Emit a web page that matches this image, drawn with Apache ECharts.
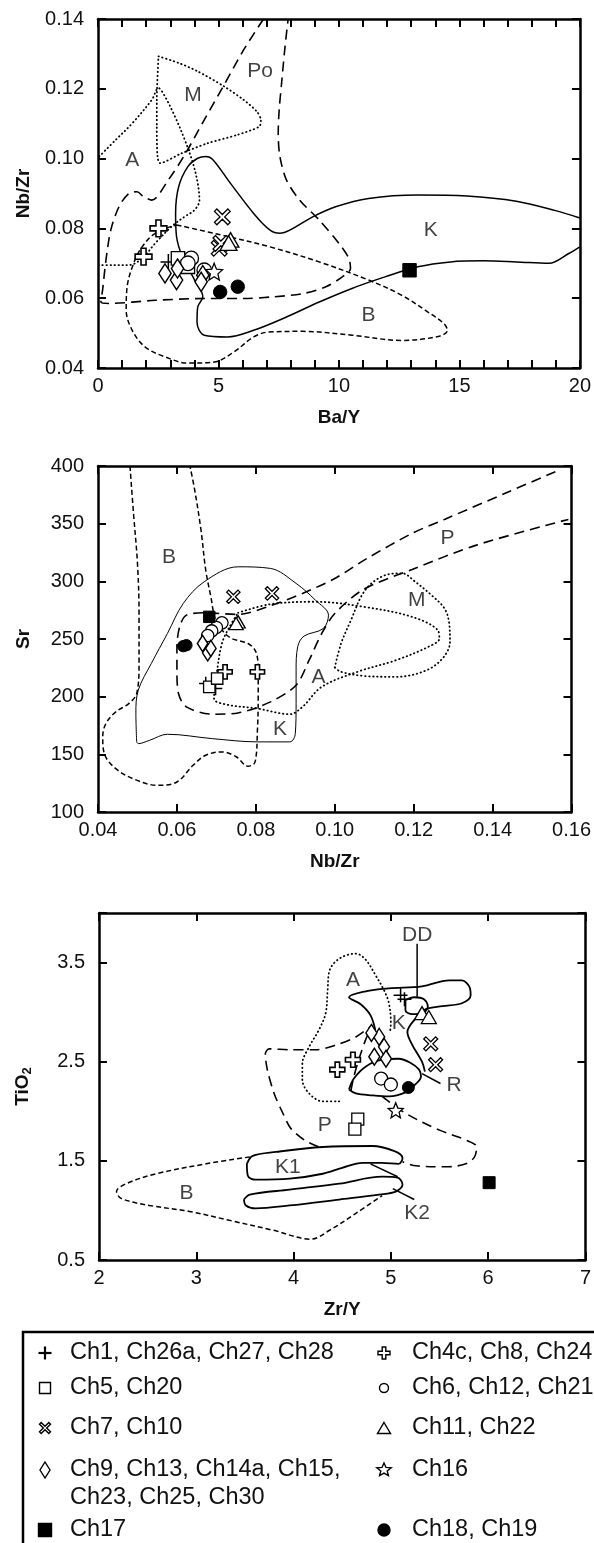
<!DOCTYPE html>
<html><head><meta charset="utf-8">
<script src="https://cdn.jsdelivr.net/npm/echarts@6/dist/echarts.min.js"></script>
<style>html,body{margin:0;padding:0;background:#fff}#c{width:594px;height:1543px}</style>
</head><body><div id="c"></div>
<script>
// ---------- legend groups ----------
const GROUPS = ['Ch1, Ch26a, Ch27, Ch28','Ch4c, Ch8, Ch24','Ch5, Ch20','Ch6, Ch12, Ch21','Ch7, Ch10','Ch11, Ch22','Ch9, Ch13, Ch14a, Ch15, Ch23, Ch25, Ch30','Ch16','Ch17','Ch18, Ch19'];
const GROUP_TEXT = ['Ch1, Ch26a, Ch27, Ch28','Ch4c, Ch8, Ch24','Ch5, Ch20','Ch6, Ch12, Ch21','Ch7, Ch10','Ch11, Ch22','Ch9, Ch13, Ch14a, Ch15,\nCh23, Ch25, Ch30','Ch16','Ch17','Ch18, Ch19'];

// ---------- plot 1: Ba/Y vs Nb/Zr ----------
const p1_Po = [[6.87,0.14],[6.05,0.1312],[5.23,0.1211],[4.41,0.1111],[3.60,0.1011],[2.92,0.0939],[2.23,0.0881],[1.89,0.0891],[1.62,0.0905],[1.28,0.0900],[0.87,0.0862],[0.53,0.0795],[0.33,0.0709],[0.19,0.0623],[0.12,0.0589],[0.46,0.0585],[2.37,0.0594],[4.41,0.0599],[6.05,0.0599],[7.28,0.0604],[8.50,0.0613],[9.46,0.0633],[10.14,0.0661],[10.48,0.0685],[10.41,0.0714],[10.0,0.0757],[9.18,0.0824],[8.37,0.0881],[7.82,0.0939],[7.55,0.1006],[7.48,0.1073],[7.52,0.1140],[7.62,0.1216],[7.75,0.1312],[7.89,0.14]];
const p1_A = [[0.05,0.1006],[0.74,0.1054],[1.42,0.1101],[2.23,0.1168],[2.51,0.1202],[2.78,0.1178],[3.19,0.1121],[3.60,0.1054],[3.94,0.0987],[4.14,0.0929],[4.21,0.0881],[4.01,0.0853],[3.60,0.0834],[3.05,0.0805],[2.37,0.0757],[1.83,0.0714],[1.28,0.0695],[0.60,0.0695],[0.03,0.0695]];
const p1_M = [[2.51,0.1293],[3.35,0.1274],[4.14,0.1250],[5.23,0.1207],[6.05,0.1168],[6.59,0.1135],[6.76,0.1111],[6.70,0.1092],[5.78,0.1068],[4.55,0.1044],[3.46,0.1015],[2.57,0.0987],[2.47,0.1006],[2.44,0.1092],[2.44,0.1168],[2.51,0.1293]];
const p1_K = [[20,0.083],[18.99,0.0851],[17.36,0.0878],[15.31,0.0893],[13.27,0.0896],[11.23,0.0886],[9.86,0.0862],[8.91,0.0833],[7.96,0.0795],[7.55,0.0786],[7.14,0.0795],[6.46,0.0843],[5.50,0.0929],[4.75,0.0998],[4.48,0.1006],[4.14,0.1001],[3.73,0.0977],[3.35,0.0920],[3.22,0.0843],[3.26,0.0776],[3.53,0.0714],[4.01,0.0652],[4.35,0.0604],[4.14,0.0575],[4.11,0.0532],[4.41,0.0494],[5.37,0.0489],[6.46,0.0508],[7.82,0.0546],[9.18,0.0589],[10.54,0.0628],[11.91,0.0661],[13.27,0.0690],[14.63,0.0704],[16.0,0.0707],[17.36,0.0704],[18.72,0.0700],[19.54,0.0728],[20,0.0747]];
const p1_B = [[3.26,0.0810],[5.12,0.0781],[7.14,0.0747],[9.18,0.0704],[11.23,0.0652],[12.59,0.0609],[13.68,0.0561],[14.36,0.0527],[14.50,0.0508],[14.16,0.0491],[12.59,0.0479],[10.54,0.0494],[8.50,0.0505],[7.07,0.0503],[6.46,0.0489],[5.64,0.0446],[4.82,0.0417],[3.73,0.0414],[2.78,0.0432],[1.96,0.0460],[1.42,0.0508],[1.17,0.0566],[1.21,0.0633],[1.48,0.0700],[1.83,0.0747],[2.37,0.0786],[3.26,0.0810]];
const p1_labels = [['A',1.42,0.0996],['M',3.94,0.1183],['Po',6.73,0.125],['K',13.81,0.0795],['B',11.23,0.0551]];
const p1_pts = [
  [[2.92,0.0704]],
  [[2.51,0.0800],[1.89,0.0719]],
  [[3.32,0.0714],[3.73,0.0690]],
  [[3.87,0.0714],[3.73,0.0700],[4.41,0.0680]],
  [[5.16,0.0833],[5.03,0.0743],[5.10,0.0757]],
  [[5.50,0.0767],[5.42,0.0758]],
  [[2.78,0.0671],[3.26,0.0652],[3.30,0.0685],[4.35,0.0666],[4.28,0.0647]],
  [[4.82,0.0676]],
  [[12.93,0.0680]],
  [[5.07,0.0618],[5.80,0.0633]]
];

// ---------- plot 2: Nb/Zr vs Sr ----------
const p2_B = [[0.0481,400],[0.0490,358.9],[0.0500,315.5],[0.0504,272.1],[0.0504,228.7],[0.0498,202.7],[0.0478,194.0],[0.0445,186.8],[0.0420,176.7],[0.0412,165.1],[0.0416,150.6],[0.0445,137.6],[0.0494,128.1],[0.0551,123.1],[0.0600,126.0],[0.0641,140.5],[0.0673,149.2],[0.0714,152.1],[0.0751,147.7],[0.0780,139.6],[0.0798,143.4],[0.0804,170.9],[0.0806,199.8],[0.0806,223.0],[0.0800,238.9],[0.0780,246.1],[0.0739,250.4],[0.0718,256.2],[0.0698,266.3],[0.0686,286.6],[0.0673,309.7],[0.0661,344.5],[0.0645,379.2],[0.0633,400]];
const p2_P = [[0.1559,395.1],[0.1441,377.7],[0.1278,353.7],[0.1196,341.6],[0.1082,319.9],[0.1000,302.5],[0.0918,289.5],[0.0837,278.8],[0.0755,271.3],[0.0673,272.7],[0.0624,270.7],[0.0607,260.6],[0.0600,243.2],[0.0600,223.0],[0.0604,202.7],[0.0624,191.1],[0.0690,184.8],[0.0755,185.9],[0.0837,195.5],[0.0902,209.9],[0.0935,231.6],[0.0967,254.8],[0.1000,272.1],[0.1073,293.0],[0.1196,310.3],[0.1359,331.4],[0.1592,353.7]];
const p2_A = [[0.0755,272.7],[0.0837,280.2],[0.0951,282.3],[0.1073,277.9],[0.1196,269.2],[0.1261,257.7],[0.1265,250.4],[0.1237,243.2],[0.1155,231.6],[0.1057,221.5],[0.0967,208.5],[0.0918,191.1],[0.0886,184.8],[0.0804,189.7],[0.0722,193.4],[0.0694,198.4],[0.0702,223.0],[0.0714,246.1],[0.0731,259.1],[0.0755,272.7]];
const p2_M = [[0.1000,225.3],[0.1016,246.1],[0.1041,266.3],[0.1069,288.1],[0.1098,299.6],[0.1139,306.3],[0.1171,306.9],[0.1204,299.6],[0.1245,288.0],[0.1278,276.5],[0.1290,263.5],[0.1292,247.5],[0.1273,233.1],[0.1229,222.4],[0.1155,217.2],[0.1073,218.0],[0.1016,221.5],[0.1000,225.3]];
const p2_K = [[0.0498,160.8],[0.0496,185.3],[0.0502,205.6],[0.0535,228.7],[0.0576,254.8],[0.0616,280.8],[0.0669,299.6],[0.0755,312.6],[0.0837,311.2],[0.0902,298.2],[0.0951,283.7],[0.0984,270.7],[0.0971,259.1],[0.0922,252.5],[0.0906,243.2],[0.0902,223.0],[0.0902,194.0],[0.0900,168.0],[0.0886,160.8],[0.0804,160.8],[0.0690,163.6],[0.0576,167.4],[0.0531,162.2],[0.0502,159.3],[0.0498,160.8]];
const p2_labels = [['B',0.058,321],['P',0.1286,337],['M',0.1208,284],['A',0.0959,217],['K',0.0861,172]];
const p2_pts = [
  [[0.0673,211.4],[0.0698,207.0]],
  [[0.0722,221.5],[0.0804,221.5]],
  [[0.0682,208.5],[0.0702,215.7]],
  [[0.0714,264],[0.0700,260],[0.0688,257],[0.0678,253]],
  [[0.0743,286.6],[0.0841,289.5]],
  [[0.0755,264.9],[0.0750,263.5]],
  [[0.0665,246.1],[0.0678,238.0],[0.0686,241.8]],
  [],
  [[0.0682,269.2]],
  [[0.0624,244.6],[0.0616,243.8]]
];

// ---------- plot 3: Zr/Y vs TiO2 ----------
const p3_A = [[4.47,2.10],[4.30,2.10],[4.16,2.18],[4.09,2.32],[4.09,2.48],[4.16,2.65],[4.26,2.82],[4.33,2.99],[4.35,3.22],[4.37,3.42],[4.47,3.54],[4.64,3.59],[4.74,3.53],[4.85,3.36],[4.93,3.22],[4.98,3.09],[5.00,2.89],[4.99,2.79]];
const p3_P1 = [[4.59,2.21],[4.62,2.35],[4.67,2.52],[4.74,2.72],[4.81,2.87],[4.64,2.75],[4.44,2.67],[4.23,2.62],[3.96,2.62],[3.75,2.63],[3.71,2.58],[3.73,2.42],[3.80,2.18],[3.89,1.98],[3.97,1.83],[4.11,1.71],[4.26,1.64]];
const p3_P2 = [[4.91,2.15],[5.15,1.98],[5.50,1.81],[5.77,1.71],[5.88,1.64],[5.86,1.54],[5.77,1.47],[5.56,1.44],[5.26,1.45],[5.12,1.49]];
const p3_K = [[4.84,2.82],[4.79,2.97],[4.69,3.08],[4.57,3.15],[4.74,3.21],[4.98,3.24],[5.32,3.26],[5.60,3.32],[5.73,3.32],[5.81,3.25],[5.82,3.17],[5.73,3.09],[5.53,3.06],[5.36,3.03],[5.24,2.92],[5.17,2.80],[5.22,2.67],[5.32,2.50],[5.35,2.40]];
const p3_DD = [[5.15,3.12],[5.24,3.15],[5.34,3.13],[5.38,3.05],[5.32,2.99],[5.22,2.98],[5.15,3.02],[5.15,3.12]];
const p3_R = [[4.57,2.22],[4.62,2.33],[4.74,2.45],[4.91,2.52],[5.08,2.53],[5.20,2.49],[5.29,2.42],[5.31,2.35],[5.24,2.26],[5.15,2.19],[4.98,2.15],[4.81,2.16],[4.64,2.18],[4.57,2.22]];
const p3_K1 = [[3.52,1.47],[3.58,1.55],[3.82,1.59],[4.30,1.64],[4.81,1.65],[5.03,1.60],[5.12,1.53],[5.08,1.47],[4.91,1.48],[4.71,1.48],[4.50,1.43],[4.30,1.37],[3.96,1.32],[3.61,1.31],[3.53,1.35],[3.52,1.47]];
const p3_K2 = [[3.49,1.11],[3.55,1.16],[3.96,1.21],[4.47,1.27],[4.91,1.34],[5.07,1.33],[5.12,1.26],[5.05,1.19],[4.88,1.16],[4.47,1.11],[3.96,1.05],[3.61,1.02],[3.51,1.05],[3.49,1.11]];
const p3_B = [[3.55,1.54],[3.10,1.47],[2.59,1.37],[2.28,1.27],[2.18,1.19],[2.23,1.12],[2.52,1.05],[2.93,0.99],[3.34,0.90],[3.79,0.80],[4.18,0.71],[4.37,0.80],[4.64,0.97],[4.91,1.15]];
const p3_leaders = [[[5.27,3.69],[5.27,3.15]],[[5.32,2.38],[5.51,2.28]],[[5.02,1.22],[5.24,1.11]],[[4.79,1.47],[5.07,1.34]]];
const p3_labels = [['DD',5.27,3.78],['A',4.61,3.32],['K',5.08,2.89],['R',5.65,2.26],['P',4.32,1.86],['K1',3.94,1.44],['B',2.90,1.17],['K2',5.27,0.97]];
const p3_pts = [
  [[5.10,3.17],[5.14,3.13]],
  [[4.45,2.42],[4.61,2.52]],
  [[4.66,1.92],[4.63,1.82]],
  [[4.90,2.33],[5.00,2.27]],
  [[5.41,2.68],[5.46,2.47]],
  [[5.32,2.99],[5.39,2.95]],
  [[4.88,2.75],[4.93,2.65],[4.83,2.55],[4.95,2.53],[4.80,2.79]],
  [[5.05,2.01]],
  [[6.01,1.28]],
  [[5.18,2.24]]
];

// ---------- styles ----------
const FONT = '"Liberation Sans", Arial, Helvetica, sans-serif';
const INK = '#000';
const LONG = [10,6], SHORT = [5,3], DOT = [0.5,3.5];
const POLY = {
  crossPlus: [[7,0],[13,0],[13,7],[20,7],[20,13],[13,13],[13,20],[7,20],[7,13],[0,13],[0,7],[7,7]],
  xcross: [[3,0],[10,7],[17,0],[20,3],[13,10],[20,17],[17,20],[10,13],[3,20],[0,17],[7,10],[0,3]],
  square: [[0,0],[20,0],[20,20],[0,20]],
  triangle: [[10,0],[20,20],[0,20]],
  diamond: [[10,0],[20,10],[10,20],[0,10]],
  star: [[10,0],[12.65,6.36],[19.51,6.91],[14.28,11.39],[15.88,18.09],[10,14.5],[4.12,18.09],[5.72,11.39],[0.49,6.91],[7.35,6.36]]
};
function polyPath(pts){ return 'path://M' + pts.map(p=>p.join(',')).join(' L') + ' Z'; }
const SYMS = [
  {kind:'plus', sym:'path://M10,0 L10,20 M0,10 L20,10', size:[14,14], fill:'#fff', lw:1.5, leg:[13,13]},
  {kind:'crossPlus', sym:polyPath(POLY.crossPlus), size:[15,15], fill:'#fff', lw:1.6, leg:[12,12]},
  {kind:'square', sym:polyPath(POLY.square), size:[12,12], fill:'#fff', lw:1.3, leg:[11,11]},
  {kind:'circle', sym:'circle', size:[13,13], fill:'#fff', lw:1.3, leg:[9,9]},
  {kind:'xcross', sym:polyPath(POLY.xcross), size:[14,14], fill:'#fff', lw:1.3, leg:[11,11]},
  {kind:'triangle', sym:polyPath(POLY.triangle), size:[15,13], fill:'#fff', lw:1.3, leg:[13,11]},
  {kind:'diamond', sym:polyPath(POLY.diamond), size:[11,17], fill:'#fff', lw:1.5, leg:[10,16]},
  {kind:'star', sym:polyPath(POLY.star), size:[15,15], fill:'#fff', lw:1.3, leg:[15,14]},
  {kind:'square', sym:polyPath(POLY.square), size:[12,12], fill:'#000', lw:1, leg:[13,13]},
  {kind:'circle', sym:'circle', size:[12,12], fill:'#000', lw:1, leg:[12,12]}
];
const PLOT_SCALE = [1.12, 0.95, 1.0];

const GRIDS = [
  {left:98, top:19, width:489, height:349},
  {left:98, top:466, width:487, height:346},
  {left:99, top:913, width:488, height:347}
];
const AX = [
  {x:{min:0,max:20,interval:1,fmt:v=>(v%5===0?String(v):'')}, y:{min:0.04,max:0.14,interval:0.02,fmt:v=>v.toFixed(2)}, xname:'Ba/Y', yname:'Nb/Zr'},
  {x:{min:0.04,max:0.16,interval:0.02,fmt:v=>v.toFixed(2)}, y:{min:100,max:400,interval:50,fmt:v=>String(Math.round(v))}, xname:'Nb/Zr', yname:'Sr'},
  {x:{min:2,max:7,interval:1,fmt:v=>String(v)}, y:{min:0.5,max:4,interval:1,fmt:v=>(v>3.9?'':v.toFixed(1))}, xname:'Zr/Y', yname:'{a|TiO}{b|2}'}
];

const lineAx = {show:true, onZero:false, lineStyle:{color:INK, width:2.5}};
const tickAx = {show:true, inside:true, length:8, lineStyle:{color:INK, width:2}};
const nameStyle = {fontSize:19, fontWeight:'bold', fontFamily:FONT, color:'#111',
  rich:{a:{fontSize:19, fontWeight:'bold', fontFamily:FONT, color:'#111'}, b:{fontSize:13, fontWeight:'bold', fontFamily:FONT, color:'#111', padding:[9,0,0,0]}}};

const xAxis = [], yAxis = [];
AX.forEach((a,gi)=>{
  xAxis.push({type:'value', gridIndex:gi, position:'bottom', min:a.x.min, max:a.x.max, interval:a.x.interval,
    axisLine:lineAx, axisTick:tickAx, splitLine:{show:false},
    axisLabel:{show:true, formatter:a.x.fmt, color:'#111', fontSize:20, fontFamily:FONT, margin:8, showMinLabel:true, showMaxLabel:true},
    name:a.xname, nameLocation:'middle', nameGap:40, nameTextStyle:nameStyle});
  xAxis.push({type:'value', gridIndex:gi, position:'top', min:a.x.min, max:a.x.max, interval:a.x.interval,
    axisLine:lineAx, axisTick:tickAx, splitLine:{show:false}, axisLabel:{show:false}});
  yAxis.push({type:'value', gridIndex:gi, position:'left', min:a.y.min, max:a.y.max, interval:a.y.interval,
    axisLine:lineAx, axisTick:tickAx, splitLine:{show:false},
    axisLabel:{show:true, formatter:a.y.fmt, color:'#111', fontSize:20, fontFamily:FONT, margin:14, showMinLabel:true, showMaxLabel:true},
    name:a.yname, nameLocation:'middle', nameGap:65, nameTextStyle:nameStyle});
  yAxis.push({type:'value', gridIndex:gi, position:'right', min:a.y.min, max:a.y.max, interval:a.y.interval,
    axisLine:lineAx, axisTick:tickAx, splitLine:{show:false}, axisLabel:{show:false}});
});

const series = [];
function field(gi, data, dash, width, smooth){
  series.push({type:'line', xAxisIndex:gi*2, yAxisIndex:gi*2, data:data, symbol:'none', showSymbol:false,
    smooth: smooth===undefined?0.35:smooth, silent:true, clip:true, z:2, animation:false,
    lineStyle:{color:INK, width:width, type:dash, cap: dash===DOT?'round':'butt'}});
}
function labels(gi, arr){
  series.push({type:'scatter', xAxisIndex:gi*2, yAxisIndex:gi*2, silent:true, z:3, symbolSize:0, animation:false,
    data:arr.map(l=>({name:l[0], value:[l[1],l[2]]})),
    label:{show:true, position:'inside', formatter:'{b}', fontSize:21, fontFamily:FONT, color:'#111'}});
}
function markers(gi, pts){
  const f = PLOT_SCALE[gi];
  pts.forEach((d,k)=>{
    const s = SYMS[k];
    series.push({type:'scatter', name:GROUPS[k], xAxisIndex:gi*2, yAxisIndex:gi*2, data:d, symbol:s.sym,
      symbolSize:[s.size[0]*f, s.size[1]*f], z:5, animation:false, emphasis:{disabled:true},
      itemStyle:{color:s.fill, borderColor:INK, borderWidth:s.lw, opacity:1}});
  });
}
// plot 1
field(0, p1_Po, LONG, 1.6, 0.3);
field(0, p1_A, DOT, 1.8);
field(0, p1_M, DOT, 1.8, 0.25);
field(0, p1_K, 'solid', 1.5);
field(0, p1_B, SHORT, 1.5);
labels(0, p1_labels);
markers(0, p1_pts);
// plot 2
field(1, p2_B, SHORT, 1.5);
field(1, p2_P, LONG, 1.6, 0.3);
field(1, p2_A, DOT, 1.8);
field(1, p2_M, DOT, 1.8);
field(1, p2_K, 'solid', 1.0);
labels(1, p2_labels);
markers(1, p2_pts);
// plot 3
field(2, p3_A, DOT, 1.8);
field(2, p3_P1, LONG, 1.6, 0.3);
field(2, p3_P2, LONG, 1.6);
field(2, p3_K, 'solid', 1.8);
field(2, p3_DD, 'solid', 1.8);
field(2, p3_R, 'solid', 1.8);
field(2, p3_K1, 'solid', 1.8);
field(2, p3_K2, 'solid', 1.8);
field(2, p3_B, SHORT, 1.5);
p3_leaders.forEach(l=>field(2, l, 'solid', 1.5, false));
labels(2, p3_labels);
markers(2, p3_pts);

// ---------- legend (graphic) ----------
const LEG = {box:{x:23, y:1332, w:620, h:300}, rows:[1353,1388,1428,1470,1530], iconX:[45,384], textX:[70,412], font:23.5, lh:28};
const graphic = [{type:'rect', shape:{x:LEG.box.x, y:LEG.box.y, width:LEG.box.w, height:LEG.box.h}, style:{fill:'none', stroke:INK, lineWidth:2.5}, silent:true}];
function icon(k, cx, cy){
  const s = SYMS[k], w = s.leg[0], h = s.leg[1];
  const st = {fill:s.fill, stroke:INK, lineWidth:1.4};
  if (s.kind === 'plus') {
    graphic.push({type:'line', shape:{x1:cx, y1:cy-h/2, x2:cx, y2:cy+h/2}, style:{stroke:INK, lineWidth:2.2}, silent:true});
    graphic.push({type:'line', shape:{x1:cx-w/2, y1:cy, x2:cx+w/2, y2:cy}, style:{stroke:INK, lineWidth:2.2}, silent:true});
  } else if (s.kind === 'circle') {
    graphic.push({type:'circle', shape:{cx:cx, cy:cy, r:w/2}, style:st, silent:true});
  } else {
    const pts = POLY[s.kind].map(p=>[cx - w/2 + p[0]*w/20, cy - h/2 + p[1]*h/20]);
    graphic.push({type:'polygon', shape:{points:pts}, style:st, silent:true});
  }
}
GROUP_TEXT.forEach((t,k)=>{
  const c = k%2, r = Math.floor(k/2);
  const cy = LEG.rows[r];
  icon(k, LEG.iconX[c], cy);
  const multi = t.indexOf('\n')>=0;
  graphic.push({type:'text', silent:true, style:{text:t, x:LEG.textX[c], y: multi? cy-LEG.lh/2 : cy, fontSize:LEG.font, fontFamily:FONT, fill:'#111',
    verticalAlign: multi?'top':'middle', lineHeight:LEG.lh}});
});

const chart = echarts.init(document.getElementById('c'), null, {renderer:'canvas'});
chart.setOption({
  animation:false,
  backgroundColor:'#fff',
  textStyle:{fontFamily:FONT},
  grid:GRIDS.map(g=>Object.assign({containLabel:false}, g)),
  xAxis:xAxis, yAxis:yAxis, series:series, graphic:graphic
});
</script></body></html>
